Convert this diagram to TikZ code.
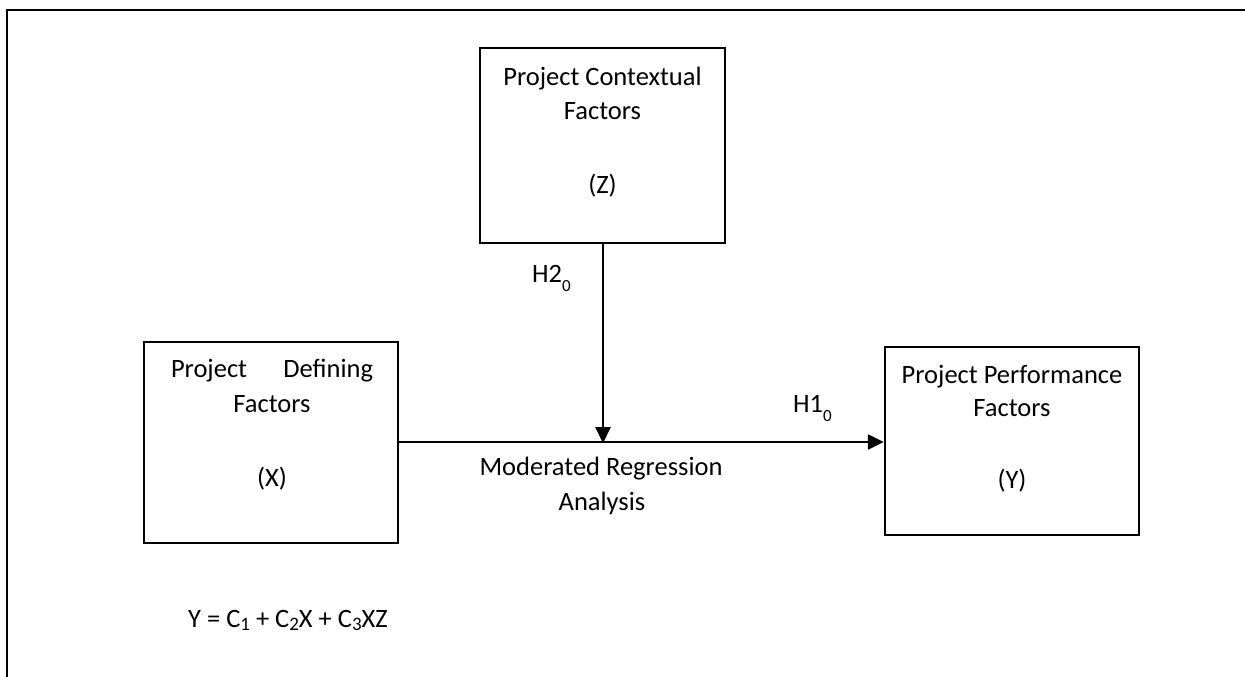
\documentclass[tikz,border=0pt]{standalone}
\usepackage{fontspec}
\setmainfont{Carlito}
\usetikzlibrary{arrows.meta}
\newcommand{\subz}[2]{\raisebox{#1}{\fontsize{#2}{#2}\selectfont 0}}
\newcommand{\subd}[1]{\raisebox{-3pt}{\fontsize{19}{19}\selectfont #1}}
\begin{document}
\begin{tikzpicture}[x=1pt,y=-1pt,
  box/.style={draw,line width=2.4pt,inner sep=0pt},
  lbl/.style={font=\fontsize{26.5}{35}\selectfont,align=center,inner sep=0pt,anchor=base},
  conn/.style={line width=2.4pt,-{Triangle[length=16pt,width=15pt]}},
  frame/.style={line width=2.4pt}]
\useasboundingbox (0,0) rectangle (1245,677);
% outer frame
\coordinate (fr) at (1245,10);
\coordinate (fc) at (7,10);
\coordinate (fb) at (7,677);
\draw[frame] (fr) -- (fc) -- (fb);
% boxes
\node[box,minimum width=245pt,minimum height=195pt] (Z) at (602.5,145.5) {};
\node[box,minimum width=254pt,minimum height=201pt] (X) at (271,442.5) {};
\node[box,minimum width=254pt,minimum height=188pt] (Y) at (1012,441) {};
% box texts
\node[lbl] (zt1) at (602.5,85) {Project Contextual};
\node[lbl] (zt2) at (602.5,119) {Factors};
\node[lbl] (zt3) at (602.5,193) {(Z)};
\node[lbl] (xt1) at (272,377) {\makebox[202pt][s]{Project Defining}};
\node[lbl] (xt2) at (272,412) {Factors};
\node[lbl] (xt3) at (272,486) {(X)};
\node[lbl] (yt1) at (1012,383) {Project Performance};
\node[lbl] (yt2) at (1012,416) {Factors};
\node[lbl] (yt3) at (1012,488) {(Y)};
% connectors
\coordinate (m) at (603,442);
\draw[conn] (X.east |- m) -- (Y.west |- m);
\draw[conn] (Z.south -| m) -- ([yshift=-1.2pt]m);
% labels
\node[lbl] (mra) at (601,475) {Moderated Regression};
\node[lbl] (mrb) at (602,510) {Analysis};
\node[lbl,anchor=base west] (h2) at (532,282) {H2\subz{-9pt}{17}};
\node[lbl,anchor=base west] (h1) at (793,412) {H1\subz{-9pt}{17}};
\node[lbl,anchor=base west] (eq) at (188,627) {Y = C\subd{1} + C\subd{2}X + C\subd{3}XZ};
\end{tikzpicture}
\end{document}
